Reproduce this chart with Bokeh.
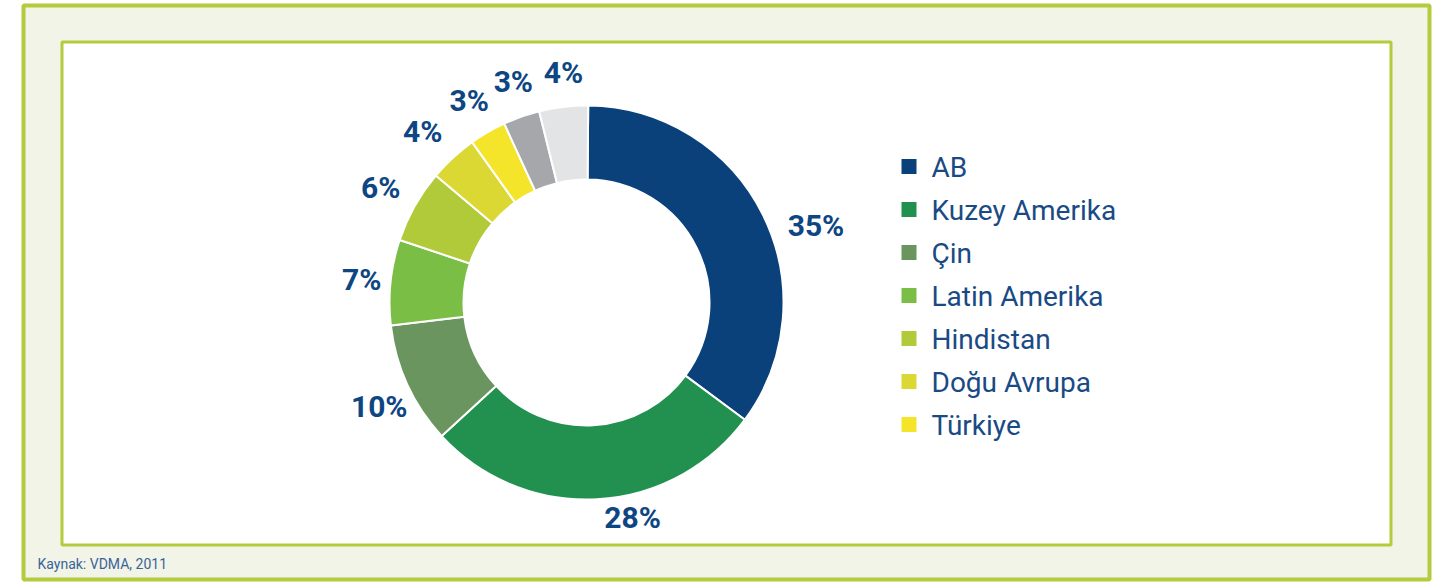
import math
from bokeh.plotting import figure
from bokeh.models import Range1d, ColumnDataSource
from bokeh.core.properties import value
from bokeh.embed import file_html
from bokeh.resources import INLINE

# ---- data ----
categories = ["AB", "Kuzey Amerika", "Çin", "Latin Amerika", "Hindistan",
              "Doğu Avrupa", "Türkiye", "Diğer 1", "Diğer 2"]
shares = [35, 28, 10, 7, 6, 4, 3, 3, 4]
labels = ["35%", "28%", "10%", "7%", "6%", "4%", "3%", "3%", "4%"]
colors = ["#0a417a", "#22904f", "#6a955f", "#7bbe45", "#b1ca3a",
          "#dbd833", "#f4e52b", "#a6a7aa", "#e3e4e6"]
legend_count = 7
source_text = "Kaynak: VDMA, 2011"

# ---- layout (screen px) ----
W, H = 1442, 583
def Y(sy):
    return H - sy

CX, CY = 586, 302
R_OUT, R_IN = 197, 123
START_DEG = 89.5
LABEL_R = 232
label_angle_shift = [-8, 9, 2, 0, 0, 1, 0, -1, -1]
label_r_shift = [10, -12, 0, -6, 4, 5, 2, 1, -1]

p = figure(width=W, height=H, x_range=Range1d(0, W), y_range=Range1d(0, H),
           output_backend="svg", toolbar_location=None, min_border=0,
           background_fill_color="white", border_fill_color="white")
p.axis.visible = False
p.grid.visible = False
p.outline_line_color = None

GREEN = "#b3cb3c"
# outer frame
p.quad(left=[23], right=[1429], top=[Y(5)], bottom=[Y(579)],
       fill_color="#f2f4e7", line_color=GREEN, line_width=4)
# inner panel
p.quad(left=[61.5], right=[1390.5], top=[Y(41.5)], bottom=[Y(544.5)],
       fill_color="white", line_color=GREEN, line_width=3)

# donut
total = float(sum(shares))
starts, ends, mids = [], [], []
cum = 0.0
for s in shares:
    a0 = START_DEG - (cum + s) / total * 360.0
    a1 = START_DEG - cum / total * 360.0
    starts.append(math.radians(a0))
    ends.append(math.radians(a1))
    mids.append((a0 + a1) / 2.0)
    cum += s

src = ColumnDataSource(dict(start=starts, end=ends, color=colors, cat=categories))
p.annular_wedge(x=CX, y=Y(CY), inner_radius=R_IN, outer_radius=R_OUT,
                start_angle="start", end_angle="end", fill_color="color",
                line_color="white", line_width=2, source=src)

# percentage labels
lx, ly = [], []
for i, m in enumerate(mids):
    a = math.radians(m + label_angle_shift[i])
    r = LABEL_R + label_r_shift[i]
    lx.append(CX + r * math.cos(a))
    ly.append(Y(CY) + r * math.sin(a))
p.text(x=lx, y=ly, text=labels, text_align="center", text_baseline="middle",
       text_font=value("Roboto"), text_font_style="bold",
       text_font_size="30px", text_color="#0d4682")

# legend
leg_y = [Y(166 + 43 * i) for i in range(legend_count)]
p.rect(x=[908.5] * legend_count, y=leg_y, width=15, height=15,
       fill_color=colors[:legend_count], line_color=None)
p.text(x=[931] * legend_count, y=[v - 1 for v in leg_y], text=categories[:legend_count],
       text_align="left", text_baseline="middle",
       text_font=value("Roboto"), text_font_size="28px",
       text_color="#1a4a84")

# source
p.text(x=[37], y=[Y(563)], text=[source_text], text_align="left",
       text_baseline="middle", text_font=value("Roboto"),
       text_font_size="14px", text_color="#3a639a")

open("out.html", "w").write(file_html(p, INLINE))
